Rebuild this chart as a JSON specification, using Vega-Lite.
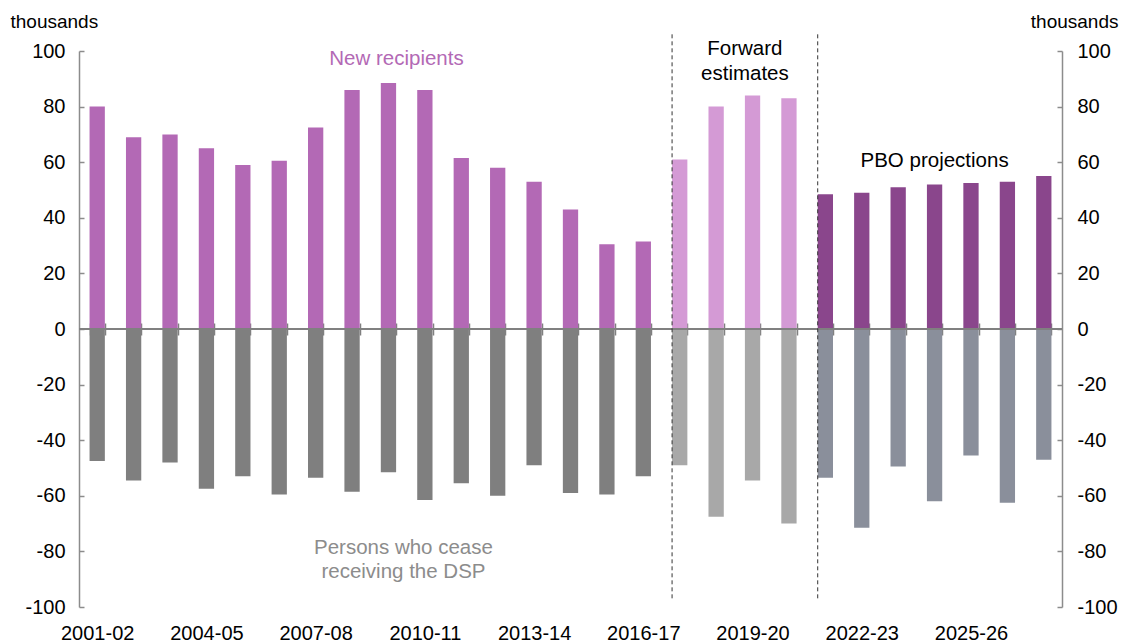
{
  "$schema": "https://vega.github.io/schema/vega-lite/v6.json",
  "width": 983,
  "height": 556,
  "autosize": "none",
  "padding": {"left": 79, "top": 51, "right": 64, "bottom": 36},
  "background": "white",
  "config": {"view": {"stroke": null}, "font": "Liberation Sans", "axis": {"grid": false}},
  "data": {"values": [
    {"year": "2001-02", "period": "actual", "new": 80, "cease": -47.5},
    {"year": "2002-03", "period": "actual", "new": 69, "cease": -54.5},
    {"year": "2003-04", "period": "actual", "new": 70, "cease": -48},
    {"year": "2004-05", "period": "actual", "new": 65, "cease": -57.5},
    {"year": "2005-06", "period": "actual", "new": 59, "cease": -53},
    {"year": "2006-07", "period": "actual", "new": 60.5, "cease": -59.5},
    {"year": "2007-08", "period": "actual", "new": 72.5, "cease": -53.5},
    {"year": "2008-09", "period": "actual", "new": 86, "cease": -58.5},
    {"year": "2009-10", "period": "actual", "new": 88.5, "cease": -51.5},
    {"year": "2010-11", "period": "actual", "new": 86, "cease": -61.5},
    {"year": "2011-12", "period": "actual", "new": 61.5, "cease": -55.5},
    {"year": "2012-13", "period": "actual", "new": 58, "cease": -60},
    {"year": "2013-14", "period": "actual", "new": 53, "cease": -49},
    {"year": "2014-15", "period": "actual", "new": 43, "cease": -59},
    {"year": "2015-16", "period": "actual", "new": 30.5, "cease": -59.5},
    {"year": "2016-17", "period": "actual", "new": 31.5, "cease": -53},
    {"year": "2017-18", "period": "fe", "new": 61, "cease": -49},
    {"year": "2018-19", "period": "fe", "new": 80, "cease": -67.5},
    {"year": "2019-20", "period": "fe", "new": 84, "cease": -54.5},
    {"year": "2020-21", "period": "fe", "new": 83, "cease": -70},
    {"year": "2021-22", "period": "pbo", "new": 48.5, "cease": -53.5},
    {"year": "2022-23", "period": "pbo", "new": 49, "cease": -71.5},
    {"year": "2023-24", "period": "pbo", "new": 51, "cease": -49.5},
    {"year": "2024-25", "period": "pbo", "new": 52, "cease": -62},
    {"year": "2025-26", "period": "pbo", "new": 52.5, "cease": -45.5},
    {"year": "2026-27", "period": "pbo", "new": 53, "cease": -62.5},
    {"year": "2027-28", "period": "pbo", "new": 55, "cease": -47}
  ]},
  "resolve": {"axis": {"y": "independent"}},
  "layer": [
    {
      "mark": {"type": "bar"},
      "encoding": {
        "x": {"field": "year", "type": "nominal", "sort": null,
          "scale": {"paddingInner": 0.58, "paddingOuter": 0.29},
          "axis": {"title": null, "domain": false, "offset": -284, "tickSize": 12, "tickColor": "#808080", "tickWidth": 1.5, "tickBand": "extent",
            "labelAngle": 0, "labelPadding": 288, "labelFontSize": 20, "labelColor": "#000000", "labelFont": "Liberation Sans",
            "labelExpr": "indexof(['2001-02','2004-05','2007-08','2010-11','2013-14','2016-17','2019-20','2022-23','2025-26'], datum.value) >= 0 ? datum.value : ''"}},
        "y": {"field": "new", "type": "quantitative", "stack": null,
          "scale": {"domain": [-100, 100], "nice": false},
          "axis": {"orient": "left", "values": [-100, -80, -60, -40, -20, 0, 20, 40, 60, 80, 100],
            "labelExpr": "'' + datum.value", "domainColor": "#8c8c8c", "domainWidth": 1.5, "tickColor": "#8c8c8c", "tickWidth": 1.5, "tickSize": -5,
            "labelPadding": 19, "labelFontSize": 20, "labelColor": "#000000", "labelFont": "Liberation Sans",
            "title": "thousands", "titleAngle": 0, "titleAlign": "left", "titleBaseline": "middle", "titleX": -69, "titleY": -30,
            "titleFontSize": 19, "titleFontWeight": "normal", "titleColor": "#000000", "titleFont": "Liberation Sans"}},
        "y2": {"datum": 0},
        "color": {"condition": [
          {"test": "datum.period == 'fe'", "value": "#D49AD5"},
          {"test": "datum.period == 'pbo'", "value": "#8A468C"}
        ], "value": "#B369B5"}
      }
    },
    {
      "mark": {"type": "bar"},
      "encoding": {
        "x": {"field": "year", "type": "nominal", "sort": null},
        "y": {"field": "cease", "type": "quantitative", "stack": null,
          "axis": {"orient": "right", "values": [-100, -80, -60, -40, -20, 0, 20, 40, 60, 80, 100],
            "labelExpr": "'' + datum.value", "domainColor": "#8c8c8c", "domainWidth": 1.5, "tickColor": "#8c8c8c", "tickWidth": 1.5, "tickSize": -5,
            "labelPadding": 20, "labelFontSize": 20, "labelColor": "#000000", "labelFont": "Liberation Sans",
            "title": "thousands", "titleAngle": 0, "titleAlign": "right", "titleBaseline": "middle", "titleX": 56, "titleY": -30,
            "titleFontSize": 19, "titleFontWeight": "normal", "titleColor": "#000000", "titleFont": "Liberation Sans"}},
        "y2": {"datum": 0},
        "color": {"condition": [
          {"test": "datum.period == 'fe'", "value": "#A8A8A8"},
          {"test": "datum.period == 'pbo'", "value": "#8A8F9B"}
        ], "value": "#7F7F7F"}
      }
    },
    {
      "data": {"values": [{"zero": 0}]},
      "mark": {"type": "rule", "color": "#808080", "strokeWidth": 2},
      "encoding": {"y": {"field": "zero", "type": "quantitative", "axis": null}}
    },
    {
      "data": {"values": [{"year": "2017-18", "top": 106, "bottom": -97}, {"year": "2021-22", "top": 106, "bottom": -97}]},
      "mark": {"type": "rule", "color": "#333333", "strokeWidth": 1, "strokeDash": [4, 3]},
      "encoding": {
        "x": {"field": "year", "type": "nominal", "sort": null, "bandPosition": 0},
        "y": {"field": "top", "type": "quantitative", "axis": null},
        "y2": {"field": "bottom"}
      }
    },
    {
      "data": {"values": [{"year": "2009-10", "v": 97, "label": "New recipients"}]},
      "mark": {"type": "text", "color": "#B369B5", "fontSize": 20.5, "dx": 8, "baseline": "middle", "font": "Liberation Sans"},
      "encoding": {
        "x": {"field": "year", "type": "nominal", "sort": null},
        "y": {"field": "v", "type": "quantitative", "axis": null},
        "text": {"field": "label"}
      }
    },
    {
      "data": {"values": [{"year": "2019-20", "v": 100.7, "label": "Forward"}, {"year": "2019-20", "v": 91.7, "label": "estimates"}]},
      "mark": {"type": "text", "color": "#000000", "fontSize": 20.5, "baseline": "middle", "font": "Liberation Sans"},
      "encoding": {
        "x": {"field": "year", "type": "nominal", "sort": null, "bandPosition": 0},
        "y": {"field": "v", "type": "quantitative", "axis": null},
        "text": {"field": "label"}
      }
    },
    {
      "data": {"values": [{"year": "2024-25", "v": 60.4, "label": "PBO projections"}]},
      "mark": {"type": "text", "color": "#000000", "fontSize": 20.5, "baseline": "middle", "font": "Liberation Sans"},
      "encoding": {
        "x": {"field": "year", "type": "nominal", "sort": null},
        "y": {"field": "v", "type": "quantitative", "axis": null},
        "text": {"field": "label"}
      }
    },
    {
      "data": {"values": [{"year": "2009-10", "v": -78.8, "label": "Persons who cease"}, {"year": "2009-10", "v": -87.4, "label": "receiving the DSP"}]},
      "mark": {"type": "text", "color": "#8C8C8C", "fontSize": 20.5, "dx": 15, "baseline": "middle", "font": "Liberation Sans"},
      "encoding": {
        "x": {"field": "year", "type": "nominal", "sort": null},
        "y": {"field": "v", "type": "quantitative", "axis": null},
        "text": {"field": "label"}
      }
    }
  ]
}
